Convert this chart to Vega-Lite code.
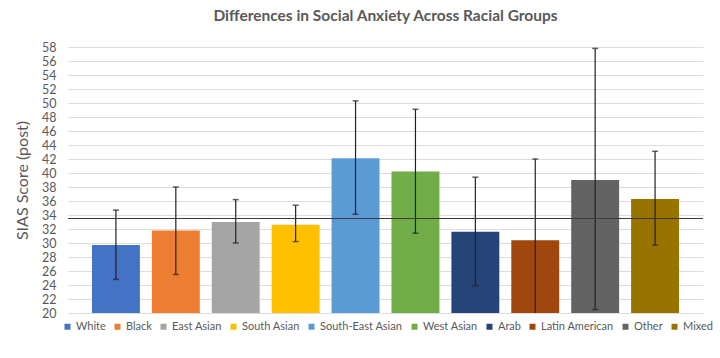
{
  "$schema": "https://vega.github.io/schema/vega-lite/v6.json",
  "width": 635,
  "height": 266,
  "autosize": {"type": "none"},
  "padding": {"left": 68, "top": 47, "right": 17, "bottom": 45},
  "background": "white",
  "config": {
    "view": {"stroke": null},
    "font": "Lato",
    "axis": {"labelFont": "Lato", "titleFont": "Lato"},
    "legend": {"labelFont": "Lato"}
  },
  "title": {
    "text": "Differences in Social Anxiety Across Racial Groups",
    "fontSize": 15.5,
    "fontWeight": "bold",
    "color": "#595959",
    "font": "Lato",
    "anchor": "middle",
    "offset": 17
  },
  "data": {
    "values": [
      {"group": "White", "mean": 29.7, "lo": 24.8, "hi": 34.7},
      {"group": "Black", "mean": 31.8, "lo": 25.5, "hi": 38.0},
      {"group": "East Asian", "mean": 33.0, "lo": 30.0, "hi": 36.2},
      {"group": "South Asian", "mean": 32.6, "lo": 30.2, "hi": 35.4},
      {"group": "South-East Asian", "mean": 42.1, "lo": 34.1, "hi": 50.3},
      {"group": "West Asian", "mean": 40.2, "lo": 31.4, "hi": 49.1},
      {"group": "Arab", "mean": 31.6, "lo": 23.9, "hi": 39.4},
      {"group": "Latin American", "mean": 30.4, "lo": 18.8, "hi": 42.0},
      {"group": "Other", "mean": 39.0, "lo": 20.5, "hi": 57.8},
      {"group": "Mixed", "mean": 36.3, "lo": 29.7, "hi": 43.1}
    ]
  },
  "resolve": {"axis": {"y": "independent", "x": "independent"}},
  "layer": [
    {
      "mark": {"type": "bar", "clip": true},
      "encoding": {
        "x": {
          "field": "group",
          "type": "nominal",
          "sort": null,
          "scale": {"paddingInner": 0.2, "paddingOuter": 0.4},
          "axis": null
        },
        "y": {
          "field": "mean",
          "type": "quantitative",
          "scale": {"domain": [20, 58], "nice": false, "zero": false},
          "axis": {
            "title": "SIAS Score (post)",
            "titleFontSize": 16,
            "titleFontWeight": "normal",
            "titleColor": "#595959",
            "titlePadding": 11,
            "values": [20,22,24,26,28,30,32,34,36,38,40,42,44,46,48,50,52,54,56,58],
            "labelOverlap": false,
            "labelFontSize": 12.5,
            "labelColor": "#595959",
            "labelPadding": 12,
            "ticks": false,
            "domain": false,
            "grid": true,
            "gridColor": "#dcdcdc",
            "gridWidth": 1
          }
        },
        "y2": {"datum": 20},
        "color": {
          "field": "group",
          "type": "nominal",
          "sort": null,
          "scale": {
            "domain": ["White", "Black", "East Asian", "South Asian", "South-East Asian", "West Asian", "Arab", "Latin American", "Other", "Mixed"],
            "range": ["#4472C4", "#ED7D31", "#A5A5A5", "#FFC000", "#5B9BD5", "#70AD47", "#264478", "#9E480E", "#636363", "#997300"]
          },
          "legend": {
            "orient": "none",
            "legendX": -6,
            "legendY": 274,
            "direction": "horizontal",
            "columns": 10,
            "title": null,
            "symbolType": "square",
            "symbolSize": 36,
            "symbolStrokeWidth": 0,
            "labelFontSize": 11,
            "labelColor": "#595959",
            "labelOffset": 3,
            "columnPadding": 6
          }
        }
      }
    },
    {
      "mark": {"type": "rule", "clip": true, "color": "#222222", "strokeWidth": 1.2},
      "encoding": {
        "x": {"field": "group", "type": "nominal", "sort": null, "axis": null},
        "y": {"field": "lo", "type": "quantitative", "axis": null},
        "y2": {"field": "hi"}
      }
    },
    {
      "mark": {"type": "tick", "clip": true, "color": "#222222", "size": 6, "thickness": 1.5},
      "encoding": {
        "x": {"field": "group", "type": "nominal", "sort": null, "axis": null},
        "y": {"field": "hi", "type": "quantitative", "axis": null}
      }
    },
    {
      "mark": {"type": "tick", "clip": true, "color": "#222222", "size": 6, "thickness": 1.5},
      "encoding": {
        "x": {"field": "group", "type": "nominal", "sort": null, "axis": null},
        "y": {"field": "lo", "type": "quantitative", "axis": null}
      }
    },
    {
      "mark": {"type": "rule", "color": "#3a3a3a", "strokeWidth": 1.2},
      "encoding": {"y": {"datum": 33.5, "axis": null}}
    }
  ]
}
